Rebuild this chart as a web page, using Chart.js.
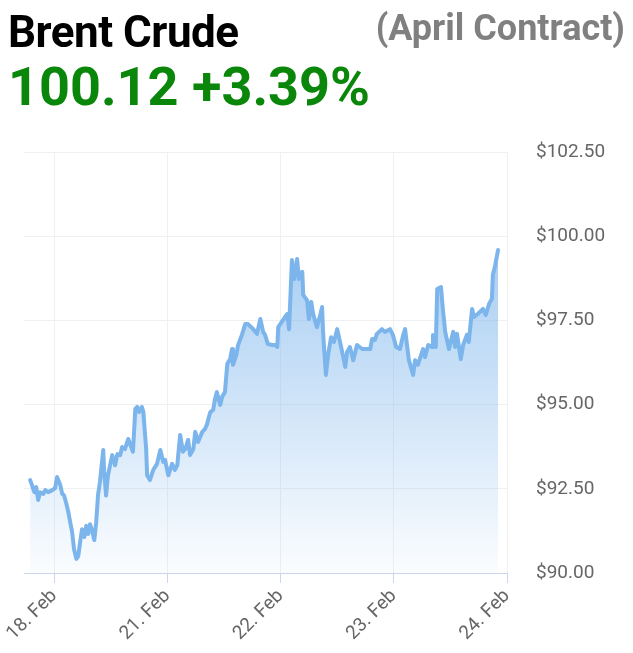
<!DOCTYPE html>
<html>
<head>
<meta charset="utf-8">
<script src="https://cdn.jsdelivr.net/npm/chart.js@4/dist/chart.umd.min.js"></script>
<style>
  html, body { margin: 0; padding: 0; background: #fff; }
  body { width: 633px; height: 653px; position: relative; overflow: hidden; font-family: Roboto, "Liberation Sans", sans-serif; }
  .t { position: absolute; font-weight: bold; white-space: nowrap; }
  #name { left: 8px; top: 10px; font-size: 44px; line-height: 44px; color: #000; letter-spacing: -0.5px; }
  #contract { right: 8px; top: 10px; font-size: 36px; line-height: 36px; color: #808080; }
  #price { left: 8px; top: 60px; font-size: 54px; line-height: 54px; color: #0a870a; }
  #wrap { position: absolute; left: 0; top: 0; width: 633px; height: 653px; }
</style>
</head>
<body>
<div id="wrap"><canvas id="c" width="633" height="653"></canvas></div>
<div class="t" id="name">Brent Crude</div>
<div class="t" id="contract">(April Contract)</div>
<div class="t" id="price">100.12 +3.39%</div>
<script>
// Hours from the "18. Feb" session tick (ticks every 24 units)
const hours = [-5.1,-4.7,-4.2,-3.8,-3.4,-3.0,-2.3,-1.9,-1.3,-0.4,0.2,0.6,1.3,1.7,2.1,2.5,3.0,3.4,3.8,4.2,4.7,5.1,5.5,5.9,6.4,6.8,7.2,7.6,8.1,8.5,8.9,9.3,9.7,10.4,10.6,11.0,11.4,12.3,12.9,13.4,14.0,14.4,15.0,15.7,16.1,16.7,17.2,17.6,18.0,18.6,18.9,19.5,19.7,20.3,21.0,21.4,21.8,22.5,23.1,23.5,24.2,25.0,25.6,26.1,26.7,27.3,27.8,28.4,28.8,29.5,29.9,30.5,31.4,32.0,32.4,33.1,33.7,34.1,34.5,35.2,35.6,36.2,36.7,37.3,37.7,37.9,38.6,39.0,39.8,40.5,41.1,42.2,43.0,43.7,44.3,44.7,45.3,46.2,46.8,47.3,47.5,48.5,49.4,49.8,50.4,50.9,51.5,51.9,52.6,52.8,53.6,54.0,54.5,54.9,55.7,56.4,56.8,57.0,57.6,58.1,58.7,59.3,60.0,60.6,61.2,61.7,62.1,62.7,63.4,64.2,65.3,67.0,67.4,68.0,68.4,69.5,70.1,71.2,71.8,72.5,73.3,74.0,74.4,74.8,75.2,76.1,76.5,77.1,78.2,78.6,79.3,80.1,80.3,80.9,81.2,82.0,82.4,82.9,83.7,84.6,85.0,85.4,86.2,86.7,87.5,87.9,88.6,89.0,89.8,90.9,91.5,92.2,92.8,93.0,93.5,94.1];
const prices = [92.76,92.61,92.40,92.55,92.17,92.40,92.35,92.46,92.40,92.46,92.52,92.85,92.61,92.35,92.30,92.10,91.81,91.50,91.22,90.71,90.42,90.50,90.92,91.30,91.07,91.40,91.16,91.45,91.22,90.98,91.50,92.32,92.70,93.65,93.00,92.30,92.90,93.50,93.20,93.53,93.50,93.74,93.68,93.98,93.83,93.60,94.87,94.93,94.78,94.93,94.78,93.68,92.90,92.76,93.06,93.15,93.24,93.65,93.30,93.36,92.90,93.24,93.06,93.20,94.10,93.60,93.68,93.95,93.50,93.68,94.19,93.89,94.19,94.28,94.42,94.78,94.84,95.17,95.37,94.99,95.23,95.37,96.21,96.35,96.65,96.18,96.47,96.77,97.07,97.39,97.39,97.24,97.10,97.54,97.16,97.07,96.80,96.77,96.77,96.71,97.30,97.51,97.69,97.24,99.29,98.73,99.32,98.73,98.94,98.25,98.10,97.54,98.05,97.69,97.30,97.66,97.90,97.16,95.88,96.50,97.00,96.86,97.24,96.86,96.47,96.12,96.56,96.71,96.32,96.77,96.65,96.65,96.95,96.92,97.10,97.24,97.16,97.24,97.07,96.71,96.65,97.07,97.24,96.77,96.32,95.88,96.32,96.18,96.65,96.41,96.77,96.71,97.07,96.71,98.43,98.49,97.84,97.16,96.65,97.16,96.71,97.10,96.35,96.77,97.07,96.86,97.84,97.60,97.69,97.84,97.66,97.99,98.14,98.85,99.14,99.59];
const tickHours = [0, 24, 48, 72, 96];
const tickLabels = ["18. Feb", "21. Feb", "22. Feb", "23. Feb", "24. Feb"];
const yTicks = [90, 92.5, 95, 97.5, 100, 102.5];

const points = hours.map((h, i) => ({ x: h, y: prices[i] }));

new Chart(document.getElementById('c'), {
  type: 'line',
  data: {
    datasets: [{
      data: points,
      borderColor: '#7cb5ec',
      borderWidth: 4,
      borderJoinStyle: 'round',
      borderCapStyle: 'round',
      pointRadius: 0,
      tension: 0,
      fill: 'start',
      backgroundColor: (ctx) => {
        const ca = ctx.chart.chartArea;
        if (!ca) return 'rgba(124,181,236,0.4)';
        const g = ctx.chart.ctx.createLinearGradient(0, ca.top, 0, ca.bottom);
        g.addColorStop(0, 'rgba(124,181,236,0.85)');
        g.addColorStop(1, 'rgba(124,181,236,0.03)');
        return g;
      }
    }]
  },
  options: {
    responsive: false,
    animation: false,
    events: [],
    layout: { padding: { top: 152, left: 24, right: 0, bottom: 0 } },
    plugins: { legend: { display: false }, tooltip: { enabled: false } },
    scales: {
      x: {
        type: 'linear',
        min: -6.4,
        max: 96,
        afterBuildTicks: (s) => { s.ticks = tickHours.map(v => ({ value: v })); },
        afterFit: (s) => { s.height = 80; },
        ticks: {
          autoSkip: false,
          minRotation: 45,
          maxRotation: 45,
          color: '#666666',
          padding: 2,
          font: { family: 'Roboto', size: 19 },
          callback: (v) => { const i = tickHours.indexOf(v); return i >= 0 ? tickLabels[i] : ''; }
        },
        grid: { color: '#f0f0f0', tickColor: '#ccd6eb', tickLength: 10, drawTicks: true },
        border: { display: true, color: '#ccd6eb', width: 1 }
      },
      y: {
        position: 'right',
        min: 90,
        max: 102.5,
        afterBuildTicks: (s) => { s.ticks = yTicks.map(v => ({ value: v })); },
        afterFit: (s) => { s.width = 126; },
        ticks: {
          color: '#666666',
          padding: 29,
          font: { family: 'Roboto', size: 19 },
          callback: (v) => '$' + Number(v).toFixed(2)
        },
        grid: { color: '#f0f0f0', drawTicks: false },
        border: { display: false }
      }
    }
  }
});
</script>
</body>
</html>
